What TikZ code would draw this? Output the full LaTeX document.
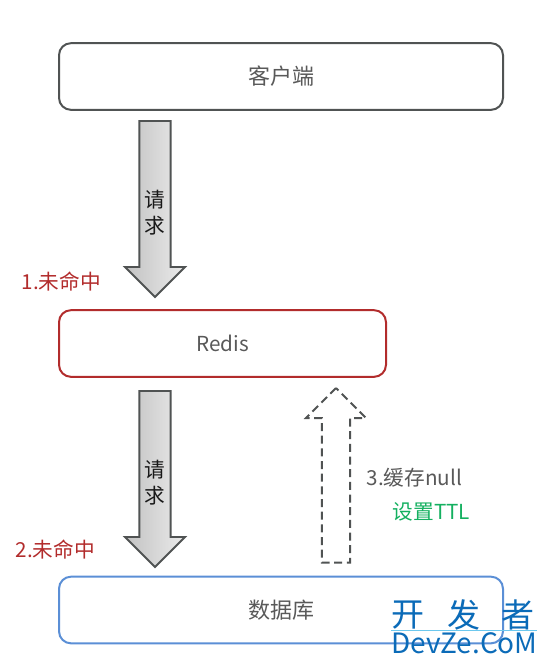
\documentclass[tikz,border=0pt]{standalone}
\usepackage{fontspec}
\setmainfont{Noto Sans CJK SC}
\usepackage{xcolor}
\usetikzlibrary{shapes.arrows, positioning}
\definecolor{BoxGray}{HTML}{505353}
\definecolor{BoxRed}{HTML}{B22C2C}
\definecolor{BoxBlue}{HTML}{5B8FD6}
\definecolor{TextGray}{HTML}{595959}
\definecolor{TtlGreen}{HTML}{14B060}
\definecolor{MarkBlue}{HTML}{0B6BB8}
\definecolor{MarkLine}{HTML}{6CC8EE}
\tikzset{
  boxnode/.style={draw=BoxGray, fill=white, rectangle, rounded corners=9pt,
                  line width=1.5pt, minimum height=50pt, outer sep=0pt,
                  text=TextGray, font=\fontsize{16.5}{19}\selectfont},
  reqarrow/.style={single arrow, shape border rotate=270, draw=BoxGray, line width=1.4pt,
                   left color=black!24, right color=black!8, outer sep=0pt, inner sep=7pt,
                   minimum width=45pt, minimum height=132pt, single arrow tip angle=90,
                   anchor=tip},
  backarrow/.style={reqarrow, shape border rotate=90, left color=white, right color=white,
                    line width=1.5pt, dash pattern=on 6pt off 3.5pt, inner sep=5.6pt,
                    minimum height=131pt},
  reqlabel/.style={font=\fontsize{15.5}{19.5}\selectfont, align=center, text=black!90},
  steplabel/.style={font=\fontsize{15.5}{18}\selectfont, anchor=west},
  markhan/.style={font=\fontsize{24.75}{25}\selectfont, text=MarkBlue},
  marklatin/.style={font=\fontsize{21}{21}\selectfont, text=MarkBlue}
}
\begin{document}
\begin{tikzpicture}[x=0.75pt, y=-0.75pt]
  \useasboundingbox (0,0) rectangle (547,665);

  \node[boxnode, minimum width=333pt] (client) at (281,76.5) {客户端};
  \node[boxnode, draw=BoxRed, minimum width=245.25pt] (redis) at (222.5,343.5) {\fontsize{15.5}{19}\selectfont Redis};
  \node[boxnode, draw=BoxBlue, minimum width=333pt] (database) at (281,610) {数据库};

  \node[reqarrow] (reqone) at (155,297) {};
  \node[reqarrow] (reqtwo) at (155,567) {};
  \node[backarrow] (nullback) at (336,388) {};

  \node[reqlabel] (reqonetext) at (155,213) {请\\求};
  \node[reqlabel] (reqtwotext) at (155,483) {请\\求};

  \node[steplabel, text=BoxRed] (missone) at (17,282) {1.未命中};
  \node[steplabel, text=BoxRed] (misstwo) at (11,550) {2.未命中};
  \node[steplabel, text=TextGray] (cachenull) at (362,478) {3.缓存null};
  \node[steplabel, text=TtlGreen] (setttl) at (388,512) {设置TTL};

  % watermark over the corner
  \node[markhan] (markkai) at (408,615) {开};
  \node[markhan, right=42pt of markkai.center, anchor=center] (markfa) {发};
  \node[markhan, right=40.5pt of markfa.center, anchor=center] (markzhe) {者};
  \node[marklatin] (marksite) at (464.5,643) {DevZe.CoM};
  \coordinate (markleft) at (391,630);
  \coordinate (markright) at (537,630);
  \draw[MarkLine, line width=0.6pt] (markleft) -- (markright);
\end{tikzpicture}
\end{document}
